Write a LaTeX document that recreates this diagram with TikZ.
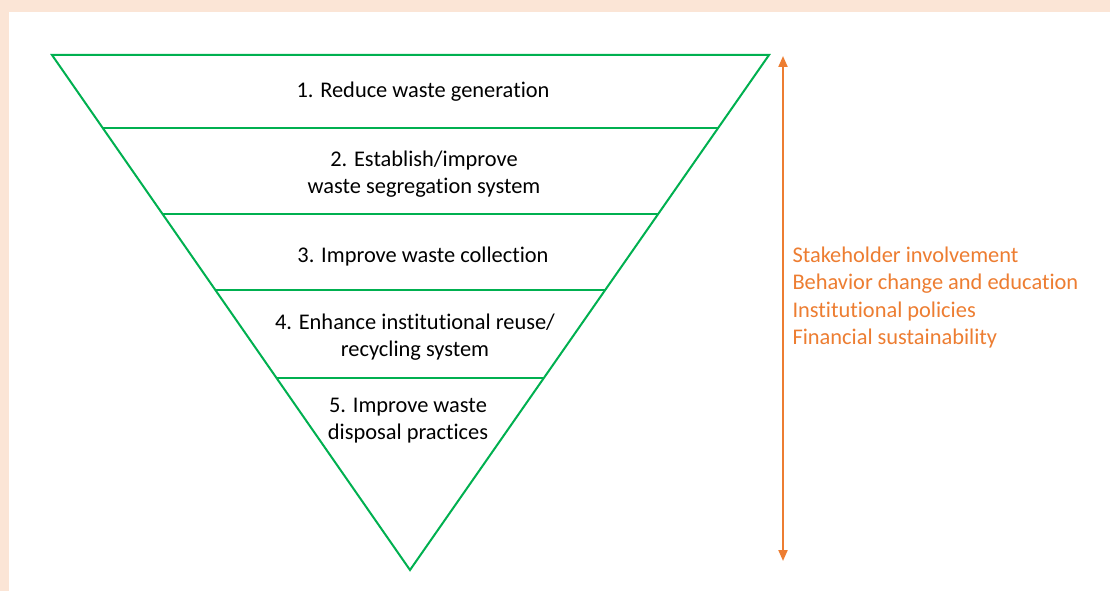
\documentclass[tikz,border=0pt]{standalone}
\usepackage{fontspec}
\setmainfont{Carlito}[Ligatures=NoCommon]
\usepackage{xcolor}
\usetikzlibrary{arrows.meta, positioning, calc}
\definecolor{wgreen}{RGB}{0, 176, 80}
\definecolor{worange}{RGB}{237, 125, 49}
\definecolor{wpeach}{RGB}{251, 229, 214}
\newcommand{\bigtxt}{\fontsize{22.4}{27.3}\selectfont}

\begin{document}
\begin{tikzpicture}[
      x=1pt, y=-1pt,
      edge/.style={draw=wgreen, line width=2pt, line join=miter},
      lbl/.style={font=\bigtxt, align=center, anchor=base, inner sep=0pt},
      olbl/.style={font=\bigtxt, align=left, anchor=base west, inner sep=0pt, text=worange},
      arr/.style={{Triangle[length=11pt, width=9pt]}-{Triangle[length=11pt, width=9pt]},
                  draw=worange, fill=worange, line width=2pt},
    ]
      % background and page margins
      \fill[wpeach] (0,0) rectangle (1110,591);
      \fill[white]  (9,12) rectangle (1110,591);
      \useasboundingbox (0,0) rectangle (1110,591);

      % inverted triangle
      \coordinate (tl)   at (52,55);
      \coordinate (tr)   at (769,55);
      \coordinate (apex) at (410,570);
      \draw[edge] (tl) -- (tr) -- (apex) -- cycle;
      \foreach \t in {0.1417, 0.3087, 0.4563, 0.6272}
        \draw[edge] ($(tl)!\t!(apex)$) -- ($(tr)!\t!(apex)$);

      % levels (base = last line)
      \node[lbl] (s1) at (423,97.3)  {1. Reduce waste generation};
      \node[lbl] (s2) at (424,193.3) {2. Establish/improve\\waste segregation system};
      \node[lbl] (s3) at (423,262.3) {3. Improve waste collection};
      \node[lbl] (s4) at (415,356.7) {4. Enhance institutional reuse/\\recycling system};
      \node[lbl] (s5) at (408,439.3) {5. Improve waste\\disposal practices};

      % cross-cutting factors
      \coordinate (atop) at (783,56);
      \coordinate (abot) at (783,561);
      \draw[arr] (abot) -- (atop);
      \node[olbl] (cc) at (792.3,344.3)
        {Stakeholder involvement\\Behavior change and education\\Institutional policies\\Financial sustainability};
    \end{tikzpicture}
\end{document}
